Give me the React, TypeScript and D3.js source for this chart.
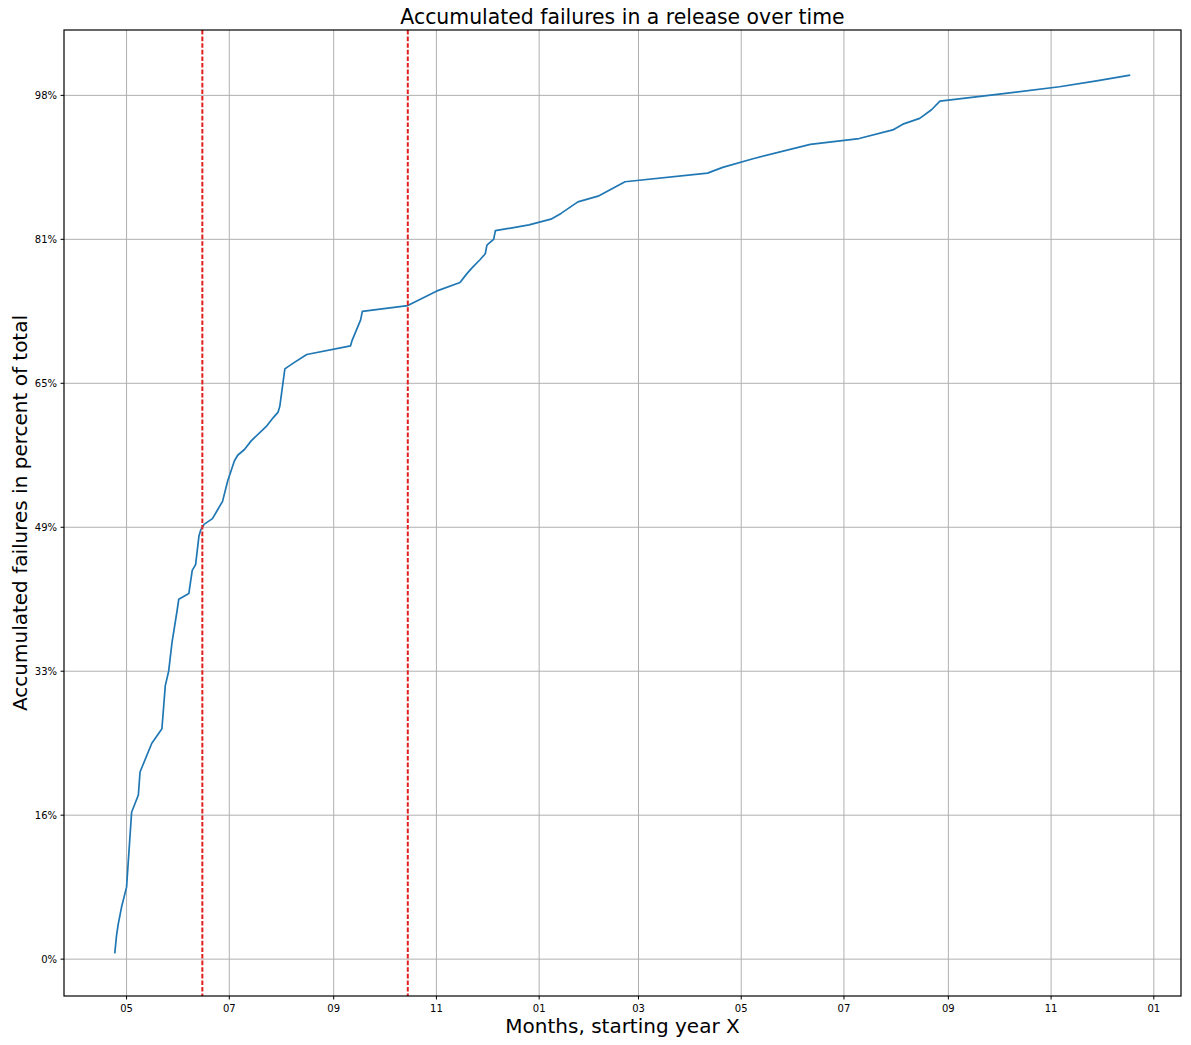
import React from "react";
import * as d3 from "d3";

const DATES = [
  "2018-04-24", "2018-04-25", "2018-04-26", "2018-04-28", "2018-05-01", "2018-05-04",
  "2018-05-08", "2018-05-09", "2018-05-16", "2018-05-22", "2018-05-24", "2018-05-26",
  "2018-05-28", "2018-05-31", "2018-06-01", "2018-06-07", "2018-06-09", "2018-06-11",
  "2018-06-13", "2018-06-14", "2018-06-16", "2018-06-21", "2018-06-24", "2018-06-27",
  "2018-06-30", "2018-07-04", "2018-07-06", "2018-07-10", "2018-07-14", "2018-07-23",
  "2018-07-27", "2018-07-30", "2018-07-31", "2018-08-03", "2018-08-08", "2018-08-16",
  "2018-09-11", "2018-09-12", "2018-09-17", "2018-09-18", "2018-10-15", "2018-11-01",
  "2018-11-15", "2018-11-19", "2018-11-22", "2018-11-27", "2018-11-30", "2018-12-01",
  "2018-12-03", "2018-12-05", "2018-12-06", "2018-12-26", "2019-01-08", "2019-01-14",
  "2019-01-24", "2019-02-05", "2019-02-21", "2019-04-11", "2019-04-20", "2019-05-08",
  "2019-06-11", "2019-07-10", "2019-07-30", "2019-08-05", "2019-08-15", "2019-08-22",
  "2019-08-27", "2019-09-25", "2019-11-06", "2019-11-28", "2019-12-18",
];

const COUNTS = [
  2, 8, 12, 18, 25, 51,
  57, 65, 75, 80, 95, 100,
  110, 121, 125, 127, 135, 137,
  147, 149, 151, 153, 156, 159,
  166, 173, 175, 177, 180, 185,
  188, 190, 192, 205, 207, 210,
  213, 215, 222, 225, 227, 232,
  235, 238, 240, 243, 245, 248,
  249, 250, 253, 255, 257, 259,
  263, 265, 270, 273, 275, 278,
  283, 285, 288, 290, 292, 295,
  298, 300, 303, 305, 307,
];

const MARKER_DATES = ["2018-06-15", "2018-10-15"];

const X_TICKS = [
  "2018-05-01", "2018-07-01", "2018-09-01", "2018-11-01", "2019-01-01", "2019-03-01",
  "2019-05-01", "2019-07-01", "2019-09-01", "2019-11-01", "2020-01-01",
];
const X_TICK_LABELS = ["05", "07", "09", "11", "01", "03", "05", "07", "09", "11", "01"];

const Y_TICKS = [0, 50, 100, 150, 200, 250, 300];
const Y_TICK_LABELS = ["0%", "16%", "33%", "49%", "65%", "81%", "98%"];
const Y_DOMAIN = [-12.8, 322.7];

const TITLE = "Accumulated failures in a release over time";
const X_LABEL = "Months, starting year X";
const Y_LABEL = "Accumulated failures in percent of total";

const W = 1191;
const H = 1045;
const M = { left: 64, right: 1181, top: 30, bottom: 996 };
const FONT = "DejaVu Sans, sans-serif";

export default function App() {
  const parse = d3.utcParse("%Y-%m-%d");
  const data = DATES.map((d, i) => ({ date: parse(d) as Date, value: COUNTS[i] }));

  const [x0, x1] = d3.extent(data, (d) => d.date) as [Date, Date];
  const span = x1.getTime() - x0.getTime();
  const x = d3
    .scaleUtc()
    .domain([new Date(x0.getTime() - span * 0.05), new Date(x1.getTime() + span * 0.05)])
    .range([M.left, M.right]);
  const y = d3.scaleLinear().domain(Y_DOMAIN).range([M.bottom, M.top]);

  const line = d3
    .line<{ date: Date; value: number }>()
    .x((d) => x(d.date))
    .y((d) => y(d.value));

  const xTicks = X_TICKS.map((t) => parse(t) as Date);

  return (
    <svg
      width={W}
      height={H}
      style={{ position: "absolute", left: 0, top: 0, background: "#fff" }}
      fontFamily={FONT}
    >
      <rect x={0} y={0} width={W} height={H} fill="#fff" />
      {/* grid */}
      <g stroke="#b0b0b0" strokeWidth={1}>
        {xTicks.map((t, i) => (
          <line key={"gx" + i} x1={x(t)} x2={x(t)} y1={M.top} y2={M.bottom} />
        ))}
        {Y_TICKS.map((v, i) => (
          <line key={"gy" + i} x1={M.left} x2={M.right} y1={y(v)} y2={y(v)} />
        ))}
      </g>
      {/* data line */}
      <path d={line(data) || ""} fill="none" stroke="#1f77b4" strokeWidth={1.7} strokeLinejoin="round" />
      {/* markers */}
      {MARKER_DATES.map((m, i) => {
        const xx = x(parse(m) as Date);
        return (
          <line
            key={"m" + i}
            x1={xx}
            x2={xx}
            y1={M.top}
            y2={M.bottom}
            stroke="#e0201e"
            strokeWidth={2}
            strokeDasharray="4.6,2"
          />
        );
      })}
      {/* spines */}
      <rect
        x={M.left}
        y={M.top}
        width={M.right - M.left}
        height={M.bottom - M.top}
        fill="none"
        stroke="#000"
        strokeWidth={1.2}
      />
      {/* x ticks */}
      <g>
        {xTicks.map((t, i) => (
          <g key={"xt" + i}>
            <line x1={x(t)} x2={x(t)} y1={M.bottom} y2={M.bottom + 3.5} stroke="#000" strokeWidth={1} />
            <text x={x(t)} y={M.bottom + 16} fontSize={10} textAnchor="middle" fill="#000">
              {X_TICK_LABELS[i]}
            </text>
          </g>
        ))}
      </g>
      {/* y ticks */}
      <g>
        {Y_TICKS.map((v, i) => (
          <g key={"yt" + i}>
            <line x1={M.left - 3.5} x2={M.left} y1={y(v)} y2={y(v)} stroke="#000" strokeWidth={1} />
            <text x={M.left - 7} y={y(v) + 3.6} fontSize={10} textAnchor="end" fill="#000">
              {Y_TICK_LABELS[i]}
            </text>
          </g>
        ))}
      </g>
      {/* title and labels */}
      <text x={(M.left + M.right) / 2} y={24} fontSize={20.4} textAnchor="middle" fill="#000">
        {TITLE}
      </text>
      <text x={(M.left + M.right) / 2} y={1033} fontSize={20} textAnchor="middle" fill="#000">
        {X_LABEL}
      </text>
      <text
        transform={`translate(27,${(M.top + M.bottom) / 2}) rotate(-90)`}
        fontSize={20}
        textAnchor="middle"
        fill="#000"
      >
        {Y_LABEL}
      </text>
    </svg>
  );
}
